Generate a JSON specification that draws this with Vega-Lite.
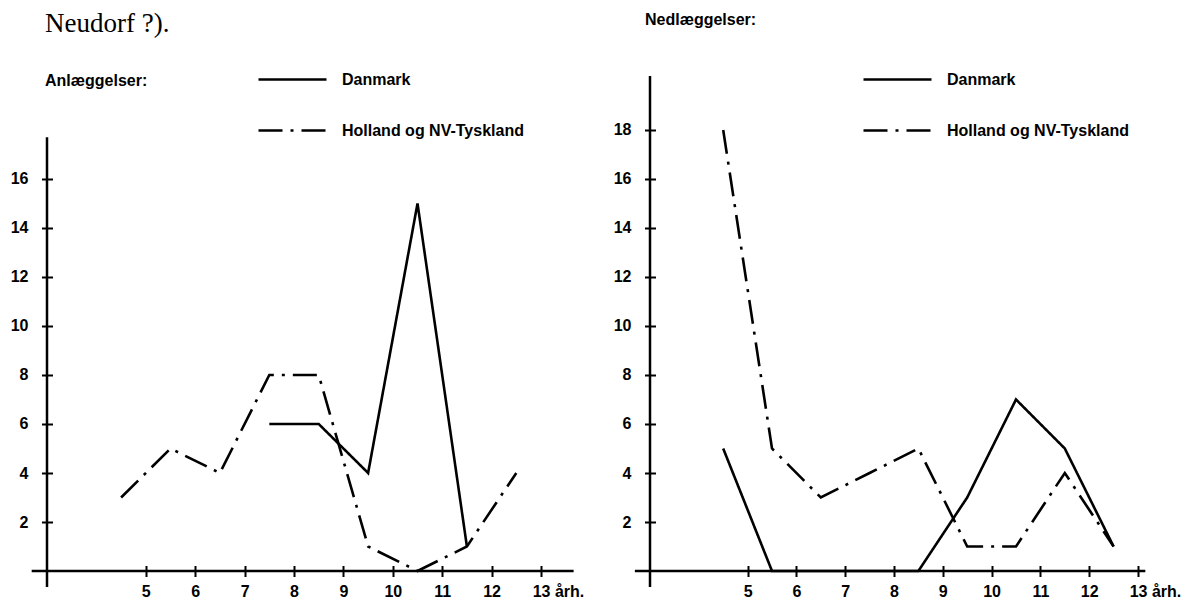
{
  "$schema": "https://vega.github.io/schema/vega-lite/v6.json",
  "padding": 0,
  "background": "white",
  "spacing": 0,
  "datasets": {
    "anl": [
      {"aarh": 4.5, "antal": 3, "omraade": "Holland og NV-Tyskland"},
      {"aarh": 5.5, "antal": 5, "omraade": "Holland og NV-Tyskland"},
      {"aarh": 6.5, "antal": 4, "omraade": "Holland og NV-Tyskland"},
      {"aarh": 7.5, "antal": 8, "omraade": "Holland og NV-Tyskland"},
      {"aarh": 8.5, "antal": 8, "omraade": "Holland og NV-Tyskland"},
      {"aarh": 9.5, "antal": 1, "omraade": "Holland og NV-Tyskland"},
      {"aarh": 10.5, "antal": 0, "omraade": "Holland og NV-Tyskland"},
      {"aarh": 11.5, "antal": 1, "omraade": "Holland og NV-Tyskland"},
      {"aarh": 12.5, "antal": 4, "omraade": "Holland og NV-Tyskland"},
      {"aarh": 7.5, "antal": 6, "omraade": "Danmark"},
      {"aarh": 8.5, "antal": 6, "omraade": "Danmark"},
      {"aarh": 9.5, "antal": 4, "omraade": "Danmark"},
      {"aarh": 10.5, "antal": 15, "omraade": "Danmark"},
      {"aarh": 11.5, "antal": 1, "omraade": "Danmark"}
    ],
    "ned": [
      {"aarh": 4.5, "antal": 18, "omraade": "Holland og NV-Tyskland"},
      {"aarh": 5.5, "antal": 5, "omraade": "Holland og NV-Tyskland"},
      {"aarh": 6.5, "antal": 3, "omraade": "Holland og NV-Tyskland"},
      {"aarh": 7.5, "antal": 4, "omraade": "Holland og NV-Tyskland"},
      {"aarh": 8.5, "antal": 5, "omraade": "Holland og NV-Tyskland"},
      {"aarh": 9.5, "antal": 1, "omraade": "Holland og NV-Tyskland"},
      {"aarh": 10.5, "antal": 1, "omraade": "Holland og NV-Tyskland"},
      {"aarh": 11.5, "antal": 4, "omraade": "Holland og NV-Tyskland"},
      {"aarh": 12.5, "antal": 1, "omraade": "Holland og NV-Tyskland"},
      {"aarh": 4.5, "antal": 5, "omraade": "Danmark"},
      {"aarh": 5.5, "antal": 0, "omraade": "Danmark"},
      {"aarh": 6.5, "antal": 0, "omraade": "Danmark"},
      {"aarh": 7.5, "antal": 0, "omraade": "Danmark"},
      {"aarh": 8.5, "antal": 0, "omraade": "Danmark"},
      {"aarh": 9.5, "antal": 3, "omraade": "Danmark"},
      {"aarh": 10.5, "antal": 7, "omraade": "Danmark"},
      {"aarh": 11.5, "antal": 5, "omraade": "Danmark"},
      {"aarh": 12.5, "antal": 1, "omraade": "Danmark"}
    ]
  },
  "hconcat": [
    {
      "width": 600,
      "height": 598,
      "title": {
        "text": "Neudorf ?).",
        "subtitle": "Anlæggelser:",
        "anchor": "start",
        "frame": "group",
        "offset": -90,
        "dx": 45,
        "font": "Liberation Serif",
        "fontSize": 27,
        "fontWeight": "normal",
        "color": "black",
        "subtitleFont": "Liberation Sans",
        "subtitleFontWeight": "bold",
        "subtitleFontSize": 16,
        "subtitleColor": "black",
        "subtitlePadding": 35
      },
      "layer": [
        {
          "data": {"name": "anl"},
          "mark": {"type": "line", "color": "black", "strokeWidth": 2.6, "strokeCap": "butt", "strokeJoin": "miter"},
          "encoding": {
            "x": {
              "field": "aarh", "type": "quantitative",
              "scale": {"domain": [2.0486, 14.194], "nice": false, "zero": false},
              "axis": {
                "values": [5, 6, 7, 8, 9, 10, 11, 12, 13],
                "offset": -32.5,
                "labelPadding": 7,
                "labelExpr": "datum.value == 13 ? '13 årh.' : datum.label",
                "labelOffset": {"condition": {"test": "datum.value == 13", "value": 17}, "value": 0}
              }
            },
            "y": {
              "field": "antal", "type": "quantitative",
              "scale": {"domain": [-1.102, 23.306], "nice": false, "zero": false},
              "axis": {
                "values": [2, 4, 6, 8, 10, 12, 14, 16],
                "offset": -52.5,
                "labelPadding": 13.5
              }
            },
            "strokeDash": {
              "field": "omraade", "type": "nominal",
              "scale": {"domain": ["Danmark", "Holland og NV-Tyskland"], "range": [[1, 0], [24, 8, 3, 8]]},
              "legend": {"orient": "none", "legendX": 257, "legendY": 44}
            }
          }
        },
        {
          "data": {"values": [{}]},
          "mark": {"type": "rule", "color": "black", "strokeWidth": 2.5},
          "encoding": {
            "x": {"datum": 2.69, "type": "quantitative"},
            "x2": {"datum": 13.66},
            "y": {"datum": 0, "type": "quantitative"}
          }
        },
        {
          "data": {"values": [{}]},
          "mark": {"type": "rule", "color": "black", "strokeWidth": 2.5},
          "encoding": {
            "x": {"datum": 3, "type": "quantitative"},
            "y": {"datum": -0.65, "type": "quantitative"},
            "y2": {"datum": 17.7}
          }
        }
      ]
    },
    {
      "width": 585,
      "height": 598,
      "title": {
        "text": "Nedlæggelser:",
        "anchor": "start",
        "frame": "group",
        "offset": -28,
        "dx": 45,
        "font": "Liberation Sans",
        "fontSize": 16,
        "fontWeight": "bold",
        "color": "black"
      },
      "layer": [
        {
          "data": {"name": "ned"},
          "mark": {"type": "line", "color": "black", "strokeWidth": 2.6, "strokeCap": "butt", "strokeJoin": "miter"},
          "encoding": {
            "x": {
              "field": "aarh", "type": "quantitative",
              "scale": {"domain": [1.9754, 13.9631], "nice": false, "zero": false},
              "axis": {
                "values": [5, 6, 7, 8, 9, 10, 11, 12, 13],
                "offset": -32.5,
                "labelPadding": 7,
                "labelExpr": "datum.value == 13 ? '13 årh.' : datum.label",
                "labelOffset": {"condition": {"test": "datum.value == 13", "value": 17}, "value": 0}
              }
            },
            "y": {
              "field": "antal", "type": "quantitative",
              "scale": {"domain": [-1.102, 23.306], "nice": false, "zero": false},
              "axis": {
                "values": [2, 4, 6, 8, 10, 12, 14, 16, 18],
                "offset": -55.5,
                "labelPadding": 13.5
              }
            },
            "strokeDash": {
              "field": "omraade", "type": "nominal",
              "scale": {"domain": ["Danmark", "Holland og NV-Tyskland"], "range": [[1, 0], [24, 8, 3, 8]]},
              "legend": {"orient": "none", "legendX": 262, "legendY": 44}
            }
          }
        },
        {
          "data": {"values": [{}]},
          "mark": {"type": "rule", "color": "black", "strokeWidth": 2.5},
          "encoding": {
            "x": {"datum": 2.69, "type": "quantitative"},
            "x2": {"datum": 13.15},
            "y": {"datum": 0, "type": "quantitative"}
          }
        },
        {
          "data": {"values": [{}]},
          "mark": {"type": "rule", "color": "black", "strokeWidth": 2.5},
          "encoding": {
            "x": {"datum": 3, "type": "quantitative"},
            "y": {"datum": -0.65, "type": "quantitative"},
            "y2": {"datum": 20.2}
          }
        }
      ]
    }
  ],
  "resolve": {
    "scale": {"x": "independent", "y": "independent", "strokeDash": "independent"},
    "legend": {"strokeDash": "independent"}
  },
  "config": {
    "view": {"stroke": null},
    "axis": {
      "grid": false,
      "domain": false,
      "title": null,
      "ticks": true,
      "tickColor": "black",
      "tickWidth": 2,
      "tickSize": 11,
      "labelFont": "Liberation Sans",
      "labelFontWeight": "bold",
      "labelFontSize": 16,
      "labelColor": "black",
      "labelFlush": false,
      "labelOverlap": false
    },
    "legend": {
      "title": null,
      "symbolType": "stroke",
      "symbolSize": 4624,
      "symbolStrokeWidth": 2.6,
      "symbolStrokeColor": "black",
      "labelFont": "Liberation Sans",
      "labelFontWeight": "bold",
      "labelFontSize": 16,
      "labelColor": "black",
      "labelOffset": 14,
      "labelLimit": 0,
      "rowPadding": 7,
      "padding": 0
    }
  }
}
